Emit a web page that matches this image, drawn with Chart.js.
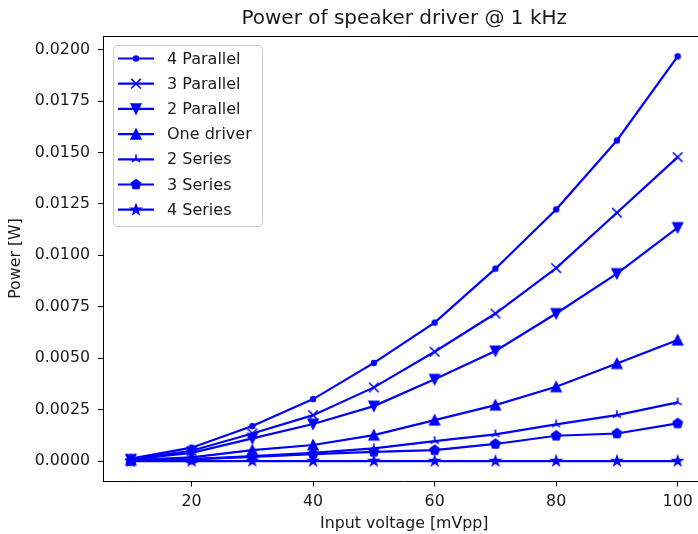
<!DOCTYPE html>
<html>
<head>
<meta charset="utf-8">
<script src="https://cdn.jsdelivr.net/npm/chart.js@4.4.0/dist/chart.umd.min.js"></script>
<style>
  html, body { margin: 0; padding: 0; background: #ffffff; overflow: hidden; }
  #wrap { width: 698px; height: 534px; overflow: hidden; position: relative; }
  #chart { position: absolute; left: 0; top: 0; }
</style>
</head>
<body>
<div id="wrap"><canvas id="chart" width="808" height="534"></canvas></div>
<script>
// Input voltage steps (mVpp)
const voltages = [10, 20, 30, 40, 50, 60, 70, 80, 90, 100];

// Measured power (W) for each speaker configuration
const power4Parallel = [0.00012, 0.00065, 0.00170, 0.00301, 0.00477, 0.00673, 0.00935, 0.01223, 0.01558, 0.01967];
const power3Parallel = [0.00010, 0.00050, 0.00134, 0.00223, 0.00358, 0.00531, 0.00717, 0.00938, 0.01207, 0.01477];
const power2Parallel = [0.00008, 0.00040, 0.00110, 0.00180, 0.00267, 0.00397, 0.00535, 0.00717, 0.00911, 0.01135];
const powerOneDriver = [0.00004, 0.00018, 0.00053, 0.00078, 0.00126, 0.00199, 0.00272, 0.00361, 0.00474, 0.00588];
const power2Series   = [0.00002, 0.00010, 0.00024, 0.00040, 0.00062, 0.00097, 0.00130, 0.00178, 0.00223, 0.00285];
const power3Series   = [0.00002, 0.00008, 0.00020, 0.00034, 0.00045, 0.00053, 0.00083, 0.00123, 0.00134, 0.00183];
const power4Series   = [0, 0, 0, 0, 0, 0, 0, 0, 0, 0];

const seriesNames = ['4 Parallel', '3 Parallel', '2 Parallel', 'One driver', '2 Series', '3 Series', '4 Series'];
const seriesValues = [power4Parallel, power3Parallel, power2Parallel, powerOneDriver, power2Series, power3Series, power4Series];
const seriesMarkers = ['point', 'x', 'triDown', 'triUp', 'tri', 'pentagon', 'star'];

// Axis ticks
const xTicks = [20, 40, 60, 80, 100];
const yTicks = [0.0000, 0.0025, 0.0050, 0.0075, 0.0100, 0.0125, 0.0150, 0.0175, 0.0200];

const BLUE = '#0000ff';
const TEXT = '#1a1a1a';
const FONT = '"DejaVu Sans", Verdana, sans-serif';
const MARKER = 9.6;   // marker size in px
const EDGE = 1.6;     // marker edge width

// Matplotlib-style marker shapes, drawn into a path centred on (cx, cy)
function markerPath(g, kind, cx, cy, size) {
  const r = size / 2;
  g.beginPath();
  if (kind === 'point') {
    g.arc(cx, cy, r * 0.5, 0, Math.PI * 2);
  } else if (kind === 'x') {
    g.moveTo(cx - r, cy - r); g.lineTo(cx + r, cy + r);
    g.moveTo(cx - r, cy + r); g.lineTo(cx + r, cy - r);
  } else if (kind === 'triUp') {
    g.moveTo(cx, cy - r); g.lineTo(cx - r, cy + r); g.lineTo(cx + r, cy + r); g.closePath();
  } else if (kind === 'triDown') {
    g.moveTo(cx, cy + r); g.lineTo(cx - r, cy - r); g.lineTo(cx + r, cy - r); g.closePath();
  } else if (kind === 'tri') {
    const s = Math.sqrt(3) / 2;
    g.moveTo(cx, cy); g.lineTo(cx, cy - r);
    g.moveTo(cx, cy); g.lineTo(cx - s * r, cy + 0.5 * r);
    g.moveTo(cx, cy); g.lineTo(cx + s * r, cy + 0.5 * r);
  } else if (kind === 'pentagon') {
    for (let i = 0; i < 5; i++) {
      const a = -Math.PI / 2 + i * 2 * Math.PI / 5;
      const px = cx + r * Math.cos(a), py = cy + r * Math.sin(a);
      if (i === 0) g.moveTo(px, py); else g.lineTo(px, py);
    }
    g.closePath();
  } else if (kind === 'star') {
    const inner = r * 0.381966;
    for (let i = 0; i < 10; i++) {
      const a = -Math.PI / 2 + i * Math.PI / 5;
      const rr = i % 2 === 0 ? r : inner;
      const px = cx + rr * Math.cos(a), py = cy + rr * Math.sin(a);
      if (i === 0) g.moveTo(px, py); else g.lineTo(px, py);
    }
    g.closePath();
  }
}

function drawMarker(g, kind, cx, cy) {
  g.save();
  g.fillStyle = BLUE;
  g.strokeStyle = BLUE;
  g.lineWidth = EDGE;
  g.lineJoin = 'miter';
  markerPath(g, kind, cx, cy, MARKER);
  if (kind !== 'x' && kind !== 'tri') g.fill();
  g.stroke();
  g.restore();
}

function markerImage(kind) {
  const S = 20;
  const c = document.createElement('canvas');
  c.width = S; c.height = S;
  drawMarker(c.getContext('2d'), kind, S / 2, S / 2);
  return c;
}

const datasets = seriesNames.map((name, i) => ({
  label: name,
  data: voltages.map((v, j) => ({ x: v, y: seriesValues[i][j] })),
  borderColor: BLUE,
  backgroundColor: BLUE,
  borderWidth: 2.2,
  pointStyle: markerImage(seriesMarkers[i]),
  pointRadius: 5,
  pointHoverRadius: 5,
  tension: 0,
  fill: false,
  markerKind: seriesMarkers[i]
}));

// Top and right spines around the plotting area
const framePlugin = {
  id: 'frame',
  afterDraw(chart) {
    const { ctx, chartArea: a } = chart;
    ctx.save();
    ctx.strokeStyle = '#000000';
    ctx.lineWidth = 1;
    ctx.beginPath();
    ctx.moveTo(a.left, a.top + 0.5);
    ctx.lineTo(a.right, a.top + 0.5);
    ctx.lineTo(a.right, a.bottom);
    ctx.stroke();
    ctx.restore();
  }
};

// Legend box in the upper-left of the plot, with line + marker handles
const legendBoxPlugin = {
  id: 'legendBox',
  afterDraw(chart) {
    const { ctx } = chart;
    const x0 = 113, y0 = 45, w = 149, h = 181, rad = 4;
    ctx.save();
    ctx.beginPath();
    ctx.roundRect(x0 + 0.5, y0 + 0.5, w, h, rad);
    ctx.fillStyle = 'rgba(255,255,255,0.8)';
    ctx.fill();
    ctx.strokeStyle = '#cccccc';
    ctx.lineWidth = 1;
    ctx.stroke();
    chart.data.datasets.forEach((ds, i) => {
      const y = 58.5 + i * 25.2;
      ctx.beginPath();
      ctx.strokeStyle = BLUE;
      ctx.lineWidth = 2.2;
      ctx.moveTo(118, y);
      ctx.lineTo(154, y);
      ctx.stroke();
      drawMarker(ctx, ds.markerKind, 136, y);
      ctx.fillStyle = TEXT;
      ctx.font = '16px ' + FONT;
      ctx.textBaseline = 'middle';
      ctx.textAlign = 'left';
      ctx.fillText(ds.label, 167, y + 1);
    });
    ctx.restore();
  }
};

new Chart(document.getElementById('chart'), {
  type: 'line',
  data: { datasets },
  plugins: [framePlugin, legendBoxPlugin],
  options: {
    responsive: false,
    animation: false,
    events: [],
    layout: { padding: { left: 0, right: 103, top: 0, bottom: 0 } },
    plugins: {
      legend: { display: false },
      tooltip: { enabled: false },
      title: {
        display: true,
        fullSize: false,
        text: 'Power of speaker driver @ 1 kHz',
        color: TEXT,
        font: { family: FONT, size: 20, weight: 'normal', lineHeight: 1.2 },
        padding: { top: 7, bottom: 5 }
      }
    },
    scales: {
      x: {
        type: 'linear',
        min: 5.5,
        max: 104.5,
        afterFit(scale) { scale.height = 53; },
        afterBuildTicks(scale) { scale.ticks = xTicks.map(v => ({ value: v })); },
        grid: { display: true, drawOnChartArea: false, drawTicks: true, tickLength: 5.5, tickWidth: 1, tickColor: '#000000' },
        border: { display: true, color: '#000000', width: 1 },
        ticks: { color: TEXT, font: { family: FONT, size: 15.8 }, padding: 6, maxRotation: 0, autoSkip: false,
                 callback: v => String(v) },
        title: { display: true, text: 'Input voltage [mVpp]', color: TEXT,
                 font: { family: FONT, size: 15.8, lineHeight: 1.2 }, padding: { top: 0, bottom: 1 } }
      },
      y: {
        type: 'linear',
        min: -0.00097,
        max: 0.02066,
        afterFit(scale) { scale.width = 103.5; },
        afterBuildTicks(scale) { scale.ticks = yTicks.map(v => ({ value: v })); },
        grid: { display: true, drawOnChartArea: false, drawTicks: true, tickLength: 5.5, tickWidth: 1, tickColor: '#000000' },
        border: { display: true, color: '#000000', width: 1 },
        ticks: { color: TEXT, font: { family: FONT, size: 15.8 }, padding: 8, autoSkip: false,
                 callback: v => Number(v).toFixed(4) },
        title: { display: true, text: 'Power [W]', color: TEXT,
                 font: { family: FONT, size: 15.8, lineHeight: 1.2 }, padding: { top: 6, bottom: 0 } }
      }
    }
  }
});
</script>
</body>
</html>
